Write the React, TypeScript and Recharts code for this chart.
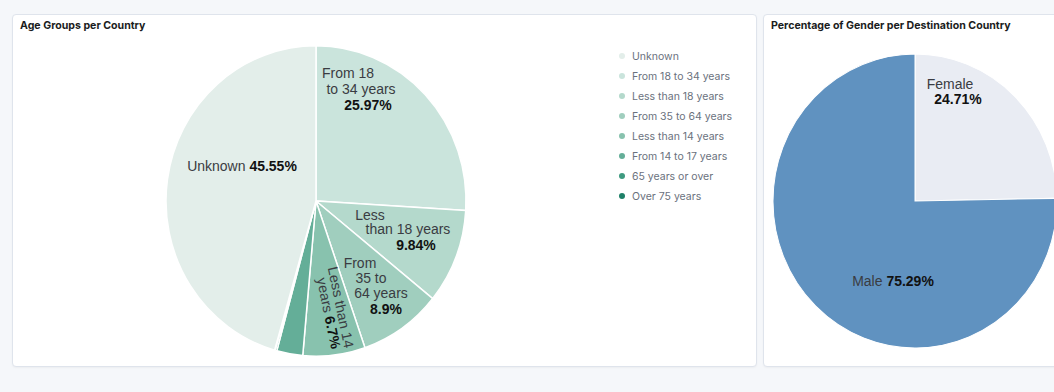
import { PieChart, Pie, Cell } from "recharts";

// slices in drawing order, clockwise from 12 o'clock
const ageGroups = [
  "From 18 to 34 years",
  "Less than 18 years",
  "From 35 to 64 years",
  "Less than 14 years",
  "From 14 to 17 years",
  "65 years or over",
  "Over 75 years",
  "Unknown",
];
const agePercents = [25.97, 9.84, 8.9, 6.7, 2.8, 0.18, 0.06, 45.55];
const legendOrder = [
  "Unknown",
  "From 18 to 34 years",
  "Less than 18 years",
  "From 35 to 64 years",
  "Less than 14 years",
  "From 14 to 17 years",
  "65 years or over",
  "Over 75 years",
];
// text shown inside each slice (lines), last line carries the bold percentage
const ageLabelLines: Record<string, string[]> = {
  "From 18 to 34 years": ["From 18", "to 34 years", ""],
  "Less than 18 years": ["Less", "than 18 years", ""],
  "From 35 to 64 years": ["From", "35 to", "64 years", ""],
  "Less than 14 years": ["Less than 14", "years "],
  Unknown: ["Unknown "],
};

const genders = ["Female", "Male"];
const genderPercents = [24.71, 75.29];
const genderLabelLines: Record<string, string[]> = {
  Female: ["Female", ""],
  Male: ["Male "],
};

const AGE_COLORS: Record<string, string> = {
  Unknown: "#e3eeea",
  "From 18 to 34 years": "#cae4dc",
  "Less than 18 years": "#b4d9cc",
  "From 35 to 64 years": "#a0cebe",
  "Less than 14 years": "#88c2ae",
  "From 14 to 17 years": "#64ae98",
  "65 years or over": "#3f9a80",
  "Over 75 years": "#1e8068",
};
const GENDER_COLORS: Record<string, string> = {
  Female: "#e9ecf3",
  Male: "#6092c0",
};

type LabelPos = { lines: number[][]; at?: number[]; rotate?: number };

// label placement relative to pie centre: one [dx, dy] per line
const AGE_LABEL_POS: Record<string, LabelPos> = {
  Unknown: { lines: [[-74, -34]] },
  "From 18 to 34 years": { lines: [[32, -124], [45, -108], [52, -93]] },
  "Less than 18 years": { lines: [[54, 13], [92, 27], [100, 42]] },
  "From 35 to 64 years": { lines: [[44, 59.5], [55, 74.5], [65, 89], [70, 104]] },
  "Less than 14 years": { at: [19, 104], rotate: 78, lines: [[0, -6], [3, 7]] },
};
const GENDER_LABEL_POS: Record<string, LabelPos> = {
  Female: { lines: [[35, -113], [43, -99]] },
  Male: { lines: [[-22, 77]] },
};

const ageData = ageGroups.map((name, i) => ({ name, value: agePercents[i] }));
const genderData = genders.map((name, i) => ({ name, value: genderPercents[i] }));

const fmt = (v: number) => `${v}%`;

const makeLabel =
  (linesByName: Record<string, string[]>, posByName: Record<string, LabelPos>) =>
  (props: any) => {
    const { cx, cy, name, value } = props;
    const lines = linesByName[name];
    const pos = posByName[name];
    if (!lines || !pos) return null;
    const [ax, ay] = pos.at || [0, 0];
    const transform = pos.rotate
      ? `translate(${cx + ax},${cy + ay}) rotate(${pos.rotate})`
      : `translate(${cx},${cy})`;
    return (
      <g transform={transform}>
        {lines.map((line, i) => {
          const last = i === lines.length - 1;
          const [dx, dy] = pos.lines[i];
          return (
            <text
              key={i}
              x={dx}
              y={dy}
              textAnchor="middle"
              dominantBaseline="central"
              fontFamily="'Liberation Sans', Arial, sans-serif"
              fontSize={14}
              fill="#3a3c42"
            >
              {line}
              {last && (
                <tspan fontWeight="bold" fill="#111">
                  {fmt(value)}
                </tspan>
              )}
            </text>
          );
        })}
      </g>
    );
  };

const AgeLegend = () => (
  <div
    style={{
      position: "absolute",
      left: 606,
      top: 31,
      fontFamily: "Inter, sans-serif",
      fontSize: 10.5,
      color: "#6a717d",
    }}
  >
    {legendOrder.map((name) => (
      <div key={name} style={{ display: "flex", alignItems: "center", height: 20 }}>
        <span
          style={{
            width: 6,
            height: 6,
            borderRadius: "50%",
            background: AGE_COLORS[name],
            marginRight: 7,
          }}
        />
        {name}
      </div>
    ))}
  </div>
);

const panel: React.CSSProperties = {
  position: "absolute",
  top: 14,
  height: 351,
  background: "#fff",
  border: "1px solid #dfe4ec",
  borderRadius: 4,
  overflow: "hidden",
  boxShadow: "0 1px 2px rgba(0,0,0,0.04)",
};
const title: React.CSSProperties = {
  position: "absolute",
  left: 7,
  top: 4,
  fontFamily: "Inter, sans-serif",
  fontWeight: 700,
  fontSize: 10.6,
  color: "#1a1c21",
};
const stretch: React.CSSProperties = {
  position: "absolute",
  left: 0,
  top: 0,
  transform: "scaleY(1.035)",
  transformOrigin: "0 186px",
};
const noMargin = { top: 0, right: 0, bottom: 0, left: 0 };

export default function App() {
  return (
    <div
      style={{
        position: "fixed",
        left: 0,
        top: 0,
        width: 1054,
        height: 392,
        background: "#f5f7fa",
        overflow: "hidden",
      }}
    >
      <div style={{ ...panel, left: 12, width: 743 }}>
        <div style={stretch}>
          <PieChart width={743} height={351} margin={noMargin}>
            <Pie
              data={ageData}
              dataKey="value"
              nameKey="name"
              cx={303}
              cy={186}
              outerRadius={150}
              startAngle={90}
              endAngle={-270}
              stroke="#fff"
              strokeWidth={1.5}
              labelLine={false}
              label={makeLabel(ageLabelLines, AGE_LABEL_POS)}
              isAnimationActive={false}
            >
              {ageData.map((d) => (
                <Cell key={d.name} fill={AGE_COLORS[d.name]} />
              ))}
            </Pie>
          </PieChart>
        </div>
        <AgeLegend />
        <div style={title}>Age Groups per Country</div>
      </div>

      <div style={{ ...panel, left: 763, width: 310 }}>
        <div style={stretch}>
          <PieChart width={310} height={351} margin={noMargin}>
            <Pie
              data={genderData}
              dataKey="value"
              nameKey="name"
              cx={151}
              cy={186}
              outerRadius={142}
              startAngle={90}
              endAngle={-270}
              stroke="#fff"
              strokeWidth={1}
              labelLine={false}
              label={makeLabel(genderLabelLines, GENDER_LABEL_POS)}
              isAnimationActive={false}
            >
              {genderData.map((d) => (
                <Cell key={d.name} fill={GENDER_COLORS[d.name]} />
              ))}
            </Pie>
          </PieChart>
        </div>
        <div style={title}>Percentage of Gender per Destination Country</div>
      </div>
    </div>
  );
}
